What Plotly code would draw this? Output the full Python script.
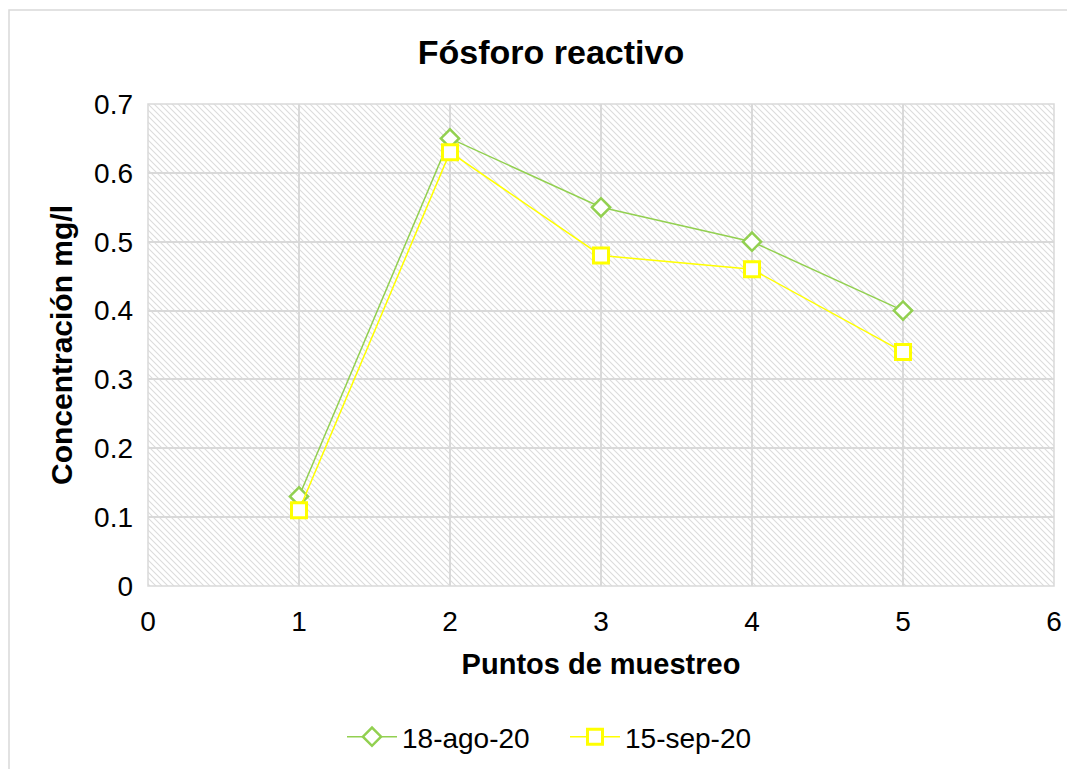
import base64
import plotly.graph_objects as go

puntos = [1, 2, 3, 4, 5]
serie_ago = [0.13, 0.65, 0.55, 0.50, 0.40]
serie_sep = [0.11, 0.63, 0.48, 0.46, 0.34]
nombres = ["18-ago-20", "15-sep-20"]
x_range = [0, 6]
y_range = [0, 0.7]

OFF = 8  # default body margin of the page
W, H = 1075 - OFF, 769 - OFF
ml, mt = 148 - OFF, 104 - OFF
pw, ph = 906, 482
mr, mb = W - ml - pw, H - mt - ph

# hatched background pattern (SVG image placed below the gridlines)
step = 6
svg = (
    f'<svg xmlns="http://www.w3.org/2000/svg" width="{pw}" height="{ph}" '
    f'viewBox="0 0 {pw} {ph}" preserveAspectRatio="none">'
    f'<defs><pattern id="p" width="{step}" height="{step}" patternUnits="userSpaceOnUse">'
    f'<path d="M-1,-1 L{step+1},{step+1} M-1,{step-1} L1,{step+1} M{step-1},-1 L{step+1},1" '
    f'stroke="#dcdcdc" stroke-width="1.1"/></pattern></defs>'
    f'<rect width="{pw}" height="{ph}" fill="white"/>'
    f'<rect width="{pw}" height="{ph}" fill="url(#p)"/></svg>'
)
svg_uri = "data:image/svg+xml;base64," + base64.b64encode(svg.encode()).decode()

fig = go.Figure()

green = "#92D050"
yellow = "#FFFF00"
fig.add_trace(go.Scatter(
    x=puntos, y=serie_ago, name=nombres[0], mode="lines+markers",
    line=dict(color=green, width=1.5),
    marker=dict(symbol="diamond", size=14, color="white", line=dict(color=green, width=2.5)),
))
fig.add_trace(go.Scatter(
    x=puntos, y=serie_sep, name=nombres[1], mode="lines+markers",
    line=dict(color=yellow, width=1.5),
    marker=dict(symbol="square", size=15, color="white", line=dict(color=yellow, width=3)),
))

font_family = "Liberation Sans, Arial, sans-serif"
fig.update_layout(
    width=W, height=H,
    margin=dict(l=ml, r=mr, t=mt, b=mb),
    paper_bgcolor="white", plot_bgcolor="white",
    font=dict(family=font_family, color="black", size=28),
    title=dict(text="<b>Fósforo reactivo</b>", x=(551 - OFF) / W, xref="container", xanchor="center",
               y=1 - (52 - OFF) / H, yref="container", yanchor="middle",
               font=dict(size=34, family=font_family, color="black")),
    xaxis=dict(range=x_range, dtick=1, showgrid=True, gridcolor="#d9d9d9", gridwidth=1.5,
               zeroline=False, showline=False, ticks="", tickfont=dict(size=28),
               ticklabelstandoff=16,
               title=dict(text="<b>Puntos de muestreo</b>", font=dict(size=29), standoff=17)),
    yaxis=dict(range=y_range, dtick=0.1, showgrid=True, gridcolor="#d9d9d9", gridwidth=1.5,
               zeroline=False, showline=False, ticks="", tickfont=dict(size=28),
               tickformat="~g", ticklabelstandoff=14,
               title=dict(text="<b>Concentración mg/l</b>", font=dict(size=30), standoff=12)),
    legend=dict(orientation="h", x=(565 - OFF) / W, xanchor="center", xref="container",
                y=1 - (737 - OFF) / H, yref="container", yanchor="middle",
                font=dict(size=28), itemwidth=50, entrywidth=158, bgcolor="rgba(0,0,0,0)"),
    showlegend=True,
    images=[dict(source=svg_uri, xref="paper", yref="paper", x=0, y=1, sizex=1, sizey=1,
                 xanchor="left", yanchor="top", sizing="stretch", layer="below")],
)

# plot-area border on top/right (same look as gridlines)
fig.add_shape(type="rect", xref="paper", yref="paper", x0=0, x1=1, y0=0, y1=1,
              line=dict(color="#d9d9d9", width=1.5), layer="between")

# outer chart border
fig.add_shape(type="rect", xref="paper", yref="paper",
              x0=(1 - ml) / pw, x1=(W + 20 - ml) / pw,
              y0=-(H + 20 - mt - ph) / ph, y1=1 + (mt - 2) / ph,
              line=dict(color="#d9d9d9", width=1.5))

fig.write_html("out.html")
